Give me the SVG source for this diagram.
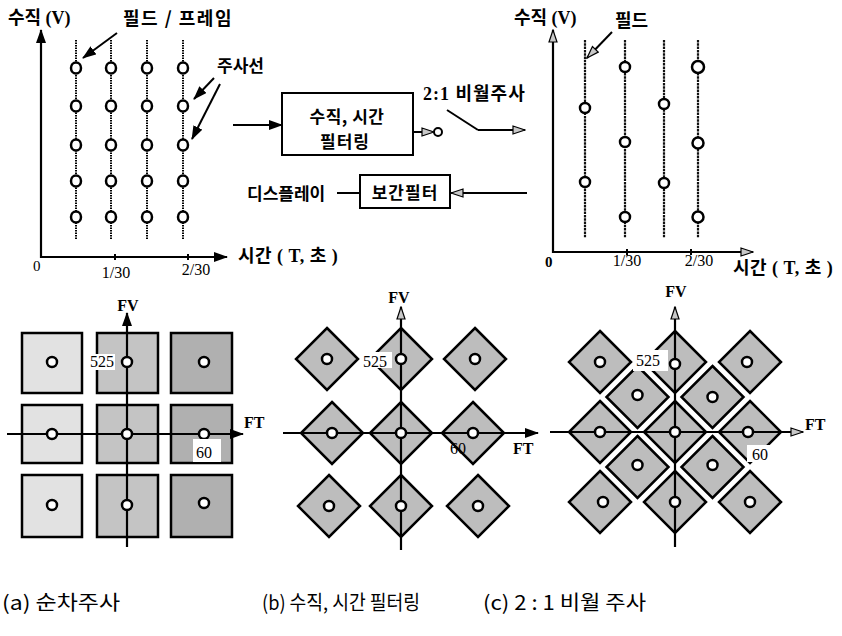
<svg xmlns="http://www.w3.org/2000/svg" width="842" height="636" viewBox="0 0 842 636">
<style>
.k{font-family:"Liberation Serif","Noto Sans CJK KR",serif;font-weight:bold;fill:#000}
.h{font-family:"Noto Sans CJK KR","Liberation Sans",sans-serif;font-weight:bold;fill:#000}
.n{font-family:"Liberation Serif",serif;fill:#000}
.cap{font-family:"Noto Sans CJK KR","Liberation Sans",sans-serif;font-size:20px;fill:#000}
.ax{stroke:#000;stroke-width:2.2;fill:none}
.dot{stroke:#000;stroke-width:2;stroke-dasharray:1.4 1.1;fill:none}
.dot2{stroke:#111;stroke-width:2.2;stroke-dasharray:2.5 0.8;fill:none}
.pt{fill:#fff;stroke:#000;stroke-width:2.5}
.box{fill:#fff;stroke:#000;stroke-width:2}
.sq1{fill:#e2e2e2;stroke:#000;stroke-width:2.5}
.sq2{fill:#c4c4c4;stroke:#000;stroke-width:2.5}
.sq3{fill:#b0b0b0;stroke:#000;stroke-width:2.5}
.dm{fill:#bdbdbd;stroke:#000;stroke-width:2.5}
.ln{stroke:#000;stroke-width:2;fill:none}
</style>
<defs>
<marker id="ab" viewBox="0 0 14 10" refX="13" refY="5" markerWidth="14" markerHeight="10" orient="auto" markerUnits="userSpaceOnUse"><path d="M0,0 L14,5 L0,10 z" fill="#000"/></marker>
<marker id="ag" viewBox="0 0 14 10" refX="13" refY="5" markerWidth="14" markerHeight="10" orient="auto" markerUnits="userSpaceOnUse"><path d="M1,1 L13,5 L1,9 z" fill="#c8c8c8" stroke="#000" stroke-width="1.2"/></marker>
<circle id="c" r="5" class="pt"/>
<polygon id="d" points="0,-31 31,0 0,31 -31,0" class="dm"/>
<polygon id="d2" points="0,-31 31,0 0,31 -31,0" class="dm"/>
</defs>

<!-- Top-left chart: progressive scan -->
<g id="chart-progressive">
  <text class="k" x="8" y="24" font-size="18">수직 (V)</text>
  <text class="h" x="123" y="25" font-size="18" letter-spacing="1.5">필드 / 프레임</text>
  <text class="h" x="217" y="72" font-size="17">주사선</text>
  <line class="dot" x1="76" y1="40" x2="76" y2="240"/>
  <line class="dot" x1="111" y1="40" x2="111" y2="240"/>
  <line class="dot" x1="147" y1="40" x2="147" y2="240"/>
  <line class="dot" x1="183" y1="40" x2="183" y2="240"/>
  <g>
    <ellipse class="pt" cx="76" cy="68" rx="5" ry="5.5"/><ellipse class="pt" cx="76" cy="106" rx="5" ry="5.5"/><ellipse class="pt" cx="76" cy="145" rx="5" ry="5.5"/><ellipse class="pt" cx="76" cy="181" rx="5" ry="5.5"/><ellipse class="pt" cx="76" cy="217" rx="5" ry="5.5"/>
    <ellipse class="pt" cx="111" cy="68" rx="5" ry="5.5"/><ellipse class="pt" cx="111" cy="106" rx="5" ry="5.5"/><ellipse class="pt" cx="111" cy="145" rx="5" ry="5.5"/><ellipse class="pt" cx="111" cy="181" rx="5" ry="5.5"/><ellipse class="pt" cx="111" cy="217" rx="5" ry="5.5"/>
    <ellipse class="pt" cx="147" cy="68" rx="5" ry="5.5"/><ellipse class="pt" cx="147" cy="106" rx="5" ry="5.5"/><ellipse class="pt" cx="147" cy="145" rx="5" ry="5.5"/><ellipse class="pt" cx="147" cy="181" rx="5" ry="5.5"/><ellipse class="pt" cx="147" cy="217" rx="5" ry="5.5"/>
    <ellipse class="pt" cx="183" cy="68" rx="5" ry="5.5"/><ellipse class="pt" cx="183" cy="106" rx="5" ry="5.5"/><ellipse class="pt" cx="183" cy="145" rx="5" ry="5.5"/><ellipse class="pt" cx="183" cy="181" rx="5" ry="5.5"/><ellipse class="pt" cx="183" cy="217" rx="5" ry="5.5"/>
  </g>
  <line class="ax" x1="41" y1="258" x2="41" y2="30" marker-end="url(#ab)"/>
  <line class="ax" x1="40" y1="257" x2="227" y2="257" marker-end="url(#ab)"/>
  <line class="ln" x1="115" y1="254" x2="115" y2="260"/>
  <line class="ln" x1="188" y1="254" x2="188" y2="260"/>
  <text class="n" x="33" y="271" font-size="15">0</text>
  <text class="n" x="116" y="278" font-size="16" text-anchor="middle">1/30</text>
  <text class="n" x="196" y="275" font-size="16" text-anchor="middle">2/30</text>
  <text class="k" x="238" y="262" font-size="18" letter-spacing="0.5">시간 ( T, 초 )</text>
</g>

<!-- Block: vertical/temporal filtering -->
<g id="block-filter">
  <rect class="box" x="282" y="93" width="131" height="62"/>
  <text class="h" x="347" y="123" font-size="17" text-anchor="middle" letter-spacing="0.5">수직, 시간</text>
  <text class="h" x="345" y="148" font-size="17" text-anchor="middle" letter-spacing="1">필터링</text>
</g>
<g id="switch">
  <circle cx="438" cy="132" r="4" fill="#fff" stroke="#000" stroke-width="2"/>
  <line class="ln" x1="447" y1="110" x2="478" y2="130"/>
  <text class="k" x="423" y="100" font-size="18" letter-spacing="1">2:1 비월주사</text>
</g>
<g id="block-interp">
  <rect class="box" x="360" y="175" width="90" height="33"/>
  <text class="h" x="405" y="199" font-size="17" text-anchor="middle" letter-spacing="1">보간필터</text>
</g>
<g id="label-display">
  <text class="h" x="247" y="200" font-size="17">디스플레이</text>
</g>

<!-- Top-right chart: interlaced scan -->
<g id="chart-interlaced">
  <text class="k" x="514" y="24" font-size="18">수직 (V)</text>
  <text class="h" x="615" y="27" font-size="18">필드</text>
  <line class="dot2" x1="585" y1="40" x2="585" y2="238"/>
  <line class="dot2" x1="625" y1="40" x2="625" y2="238"/>
  <line class="dot2" x1="664" y1="40" x2="664" y2="238"/>
  <line class="dot2" x1="698" y1="40" x2="698" y2="238"/>
  <use href="#c" x="585" y="108"/><use href="#c" x="585" y="182"/>
  <use href="#c" x="625" y="67"/><use href="#c" x="625" y="142"/><use href="#c" x="625" y="217"/>
  <use href="#c" x="664" y="104"/><use href="#c" x="664" y="183"/>
  <circle class="pt" cx="698" cy="67" r="6"/><circle class="pt" cx="698" cy="143" r="5.5"/><circle class="pt" cx="698" cy="217" r="5.5"/>
  <line class="ax" x1="553" y1="253" x2="553" y2="30" marker-end="url(#ag)"/>
  <line class="ax" x1="552" y1="252" x2="753" y2="252" marker-end="url(#ag)"/>
  <line class="ln" x1="627" y1="249" x2="627" y2="255"/>
  <line class="ln" x1="691" y1="249" x2="691" y2="255"/>
  <text class="n" x="545" y="267" font-size="15" font-weight="bold">0</text>
  <text class="n" x="627" y="266" font-size="16" text-anchor="middle">1/30</text>
  <text class="n" x="699" y="266" font-size="16" text-anchor="middle">2/30</text>
  <text class="k" x="733" y="274" font-size="18" letter-spacing="0.5">시간 ( T, 초 )</text>
</g>

<!-- Connectors -->
<g id="connectors">
  <line class="ln" x1="117" y1="33" x2="83" y2="58" stroke-width="3" marker-end="url(#ab)"/>
  <line class="ln" x1="214" y1="78" x2="194" y2="99" stroke-width="3" marker-end="url(#ab)"/>
  <line class="ln" x1="220" y1="84" x2="192" y2="139" stroke-width="3" marker-end="url(#ab)"/>
  <line class="ln" x1="612" y1="32" x2="587" y2="58" stroke-width="3" marker-end="url(#ag)"/>
  <line class="ln" x1="233" y1="125" x2="282" y2="125" marker-end="url(#ab)"/>
  <line class="ln" x1="413" y1="132" x2="434" y2="132" marker-end="url(#ag)"/>
  <line class="ln" x1="478" y1="130" x2="525" y2="130" marker-end="url(#ag)"/>
  <line class="ln" x1="337" y1="193" x2="360" y2="193"/>
  <line class="ln" x1="527" y1="193" x2="451" y2="193" marker-end="url(#ag)"/>
</g>

<!-- (a) progressive spectrum -->
<g id="spectrum-a">
  <rect class="sq1" x="22" y="333" width="60" height="60"/>
  <rect class="sq2" x="97" y="333" width="61" height="60"/>
  <rect class="sq3" x="171" y="333" width="61" height="60"/>
  <rect class="sq1" x="22" y="405" width="60" height="58"/>
  <rect class="sq2" x="97" y="405" width="61" height="58"/>
  <rect class="sq3" x="171" y="405" width="61" height="58"/>
  <rect class="sq1" x="22" y="475" width="60" height="62"/>
  <rect class="sq2" x="97" y="475" width="61" height="62"/>
  <rect class="sq3" x="171" y="475" width="61" height="62"/>
  <line class="ax" x1="127" y1="547" x2="127" y2="313" marker-end="url(#ab)"/>
  <line class="ax" x1="7" y1="434" x2="243" y2="434" marker-end="url(#ab)"/>
  <use href="#c" x="52" y="362"/><use href="#c" x="127" y="362"/><use href="#c" x="204" y="362"/>
  <use href="#c" x="52" y="434"/><use href="#c" x="127" y="434"/><use href="#c" x="204" y="434"/>
  <use href="#c" x="52" y="505"/><use href="#c" x="127" y="505"/><use href="#c" x="204" y="503"/>
  <text class="n" x="128" y="311" font-size="16" font-weight="bold" text-anchor="middle">FV</text>
  <text class="n" x="244" y="428" font-size="16" font-weight="bold">FT</text>
  <rect x="89" y="354" width="26" height="16" fill="#fff"/>
  <text class="n" x="90" y="367" font-size="16">525</text>
  <rect x="193" y="439" width="28" height="23" fill="#fff"/>
  <text class="n" x="196" y="458" font-size="16">60</text>
</g>

<!-- (b) vertical-temporal filtered spectrum -->
<g id="spectrum-b">
  <use href="#d" x="327" y="359"/><use href="#d" x="401" y="359"/><use href="#d" x="475" y="359"/>
  <use href="#d" x="332" y="433"/><use href="#d" x="401" y="433"/><use href="#d" x="473" y="433"/>
  <use href="#d" x="329" y="506"/><use href="#d" x="401" y="506"/><use href="#d" x="478" y="506"/>
  <line class="ax" x1="401" y1="550" x2="401" y2="307" marker-end="url(#ag)"/>
  <line class="ax" x1="283" y1="433" x2="538" y2="433" marker-end="url(#ab)"/>
  <use href="#c" x="327" y="359"/><use href="#c" x="401" y="359"/><use href="#c" x="475" y="359"/>
  <use href="#c" x="332" y="433"/><use href="#c" x="401" y="433"/><use href="#c" x="473" y="433"/>
  <use href="#c" x="329" y="506"/><use href="#c" x="401" y="506"/><use href="#c" x="478" y="506"/>
  <text class="n" x="399" y="303" font-size="16" font-weight="bold" text-anchor="middle">FV</text>
  <rect x="362" y="352" width="30" height="16" fill="#fff"/>
  <text class="n" x="363" y="367" font-size="16">525</text>
  <text class="n" x="450" y="454" font-size="16">60</text>
  <text class="n" x="513" y="454" font-size="16" font-weight="bold">FT</text>
</g>

<!-- (c) 2:1 interlaced spectrum -->
<g id="spectrum-c">
  <use href="#d2" x="600" y="362"/><use href="#d2" x="675" y="362"/><use href="#d2" x="750" y="362"/>
  <use href="#d2" x="637.5" y="397"/><use href="#d2" x="712.5" y="397"/>
  <use href="#d2" x="600" y="432"/><use href="#d2" x="675" y="432"/><use href="#d2" x="750" y="432"/>
  <use href="#d2" x="637.5" y="467"/><use href="#d2" x="712.5" y="467"/>
  <use href="#d2" x="600" y="502"/><use href="#d2" x="675" y="502"/><use href="#d2" x="750" y="502"/>
  <line class="ax" x1="675" y1="547" x2="675" y2="307" marker-end="url(#ag)"/>
  <line class="ax" x1="550" y1="432" x2="803" y2="432" marker-end="url(#ag)"/>
  <use href="#c" x="600" y="362"/><use href="#c" x="675" y="364"/><use href="#c" x="747" y="362"/>
  <use href="#c" x="637.5" y="395"/><use href="#c" x="712.5" y="397"/>
  <use href="#c" x="600" y="432"/><use href="#c" x="675" y="432"/><use href="#c" x="748" y="432"/>
  <use href="#c" x="637.5" y="465"/><use href="#c" x="712.5" y="465"/>
  <use href="#c" x="603" y="502"/><use href="#c" x="675" y="502"/><use href="#c" x="750" y="502"/>
  <text class="n" x="676" y="297" font-size="16" font-weight="bold" text-anchor="middle">FV</text>
  <rect x="633" y="350" width="35" height="21" fill="#fff"/>
  <text class="n" x="636" y="366" font-size="16">525</text>
  <rect x="747" y="445" width="30" height="17" fill="#fff"/>
  <text class="n" x="752" y="460" font-size="16">60</text>
  <text class="n" x="805" y="430" font-size="16" font-weight="bold">FT</text>
</g>

<!-- Captions -->
<g id="captions">
  <text class="cap" x="2" y="610" textLength="118" lengthAdjust="spacingAndGlyphs">(a) 순차주사</text>
  <text class="cap" x="262" y="610" textLength="158" lengthAdjust="spacingAndGlyphs">(b) 수직, 시간 필터링</text>
  <text class="cap" x="483" y="610" textLength="163" lengthAdjust="spacingAndGlyphs">(c) 2 : 1 비월 주사</text>
</g>
</svg>
